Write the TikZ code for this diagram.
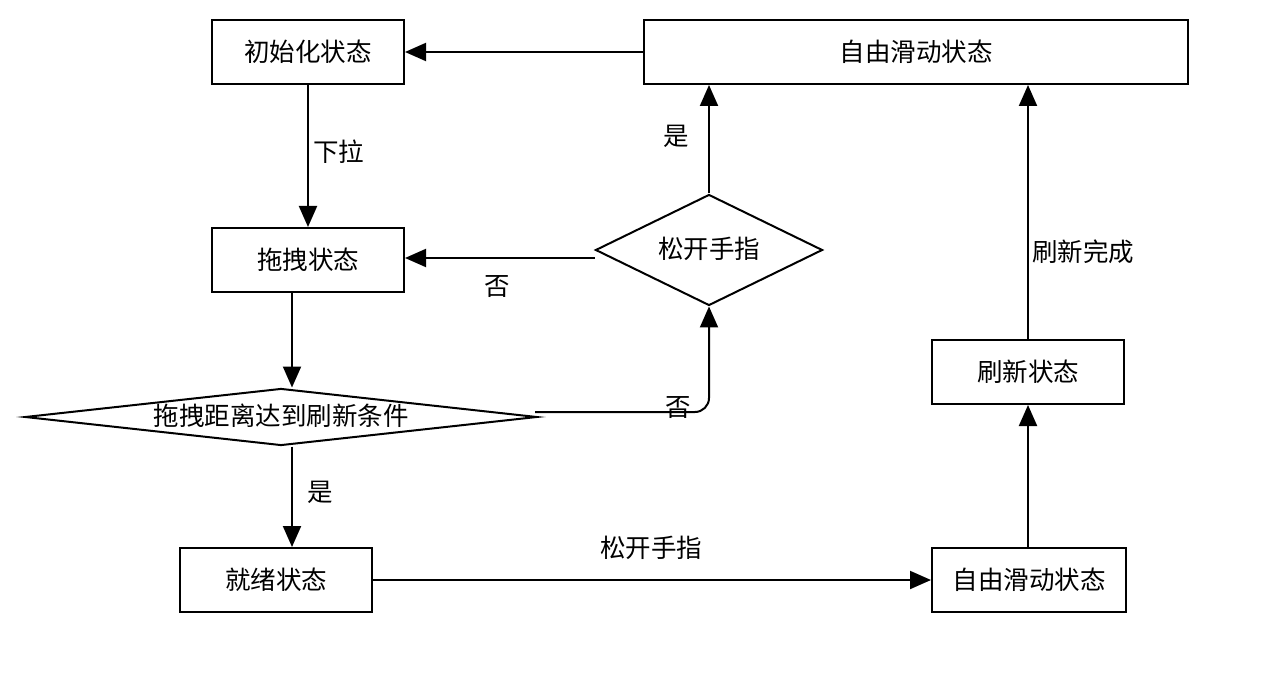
\documentclass[tikz,border=0pt]{standalone}
\usepackage{fontspec}
\newfontfamily\cjk{Noto Sans CJK SC}
\usetikzlibrary{shapes.geometric,arrows.meta}
\begin{document}
\begin{tikzpicture}[x=1pt,y=-1pt,
  every node/.style={font=\cjk\fontsize{25.5}{30}\selectfont, inner sep=0pt},
  statebox/.style={draw, line width=2pt, fill=white, minimum height=64pt},
  decide/.style={draw, diamond, line width=2pt, fill=white, text height=20pt, text depth=3pt},
  arr/.style={line width=2pt, -{Triangle[length=21pt,width=18pt]}},
  lbl/.style={}]
\fill[white] (0,0) rectangle (1268,692);
\useasboundingbox (0,0) rectangle (1268,692);

\node[statebox, minimum width=192pt] (init) at (308,52) {初始化状态};
\node[statebox, minimum width=544pt] (free1) at (916,52) {自由滑动状态};
\node[statebox, minimum width=192pt] (drag) at (308,260) {拖拽状态};
\node[decide, aspect=2.05, minimum width=227pt, minimum height=111pt] (release) at (709,250) {松开手指};
\node[decide, aspect=9, minimum width=512pt, minimum height=57pt] (cond) at (281,417) {拖拽距离达到刷新条件};
\node[statebox, minimum width=192pt] (ready) at (276,580) {就绪状态};
\node[statebox, minimum width=194pt] (free2) at (1029,580) {自由滑动状态};
\node[statebox, minimum width=192pt] (refresh) at (1028,372) {刷新状态};

% connectors
\draw[arr] (free1.west) -- (init.east);
\draw[arr] (init.south) -- node[lbl, anchor=west, xshift=4pt, yshift=4pt] {下拉} (drag.north);
\draw[arr] ([yshift=-8pt]release.west) -- ([yshift=2pt]drag.east);
\node[lbl] (no1) at (497,287) {否};
\draw[arr] (release.north) -- (release.north |- free1.south);
\node[lbl] (yes1) at (676,136) {是};
\draw[arr] ([xshift=-16pt]drag.south) -- ([xshift=-16pt]drag.south |- cond.north);
\draw[arr, rounded corners=14pt] ([xshift=-3pt,yshift=5pt]cond.east) -| (release.south);
\node[lbl] (no2) at (678,408) {否};
\draw[arr] ([xshift=16pt]ready.north |- cond.south) -- ([xshift=16pt]ready.north);
\node[lbl] (yes2) at (320,492) {是};
\draw[arr] (ready.east) -- (free2.west);
\node[lbl] (rel2) at (651,548) {松开手指};
\draw[arr] ([xshift=-1pt]free2.north) -- (refresh.south);
\draw[arr] (refresh.north) -- (refresh.north |- free1.south);
\node[lbl, anchor=west] (done) at (1032,252) {刷新完成};
\end{tikzpicture}
\end{document}
